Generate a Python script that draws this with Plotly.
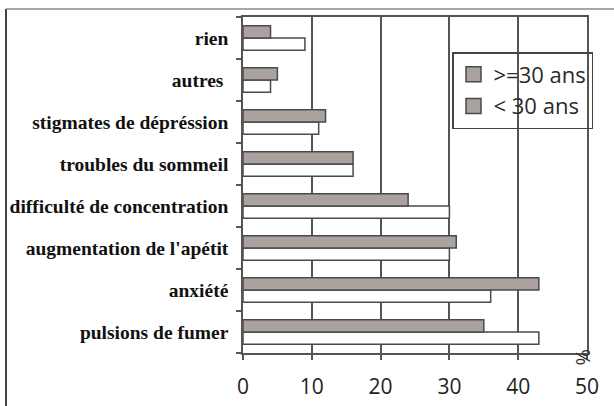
import plotly.graph_objects as go

categories = ["pulsions de fumer", "anxiété", "augmentation de l'apétit",
              "difficulté de concentration", "troubles du sommeil",
              "stigmates de dépréssion", "autres ", "rien"]
ge30 = [35, 43, 31, 24, 16, 12, 5, 4]
lt30 = [43, 36, 30, 30, 16, 11, 4, 9]
x_ticks = [0, 10, 20, 30, 40, 50]

GRAY = "#aba2a0"
EDGE = "#4a4a4a"

fig = go.Figure()
fig.add_trace(go.Bar(y=categories, x=lt30, orientation="h", name="< 30 ans",
                     marker=dict(color="white", line=dict(color=EDGE, width=1.5)),
                     showlegend=False))
fig.add_trace(go.Bar(y=categories, x=ge30, orientation="h", name=">=30 ans",
                     marker=dict(color=GRAY, line=dict(color=EDGE, width=1.5)),
                     showlegend=False))
# legend entries (both drawn grey, as in the original)
for nm, grp in [(">=30 ans", "a"), ("< 30 ans", "b")]:
    fig.add_trace(go.Scatter(x=[None], y=[None], mode="markers", name=nm,
                             legendgroup=grp,
                             marker=dict(symbol="square", size=15, color=GRAY,
                                         line=dict(color=EDGE, width=1.5))))

W, H = 614, 406
L, R, T, B = 243, 27, 17, 53
pw, ph = W - L - R, H - T - B

def px(x):
    return (x - L) / pw

def py(y):
    return (H - B - y) / ph

fig.update_layout(
    width=W, height=H,
    margin=dict(l=L, r=R, t=T, b=B, autoexpand=False),
    paper_bgcolor="white", plot_bgcolor="white",
    barmode="group", bargap=0.42, bargroupgap=0,
    xaxis=dict(range=[0, 50], tickvals=x_ticks, ticktext=[str(v) for v in x_ticks],
               showgrid=True, gridcolor="#555555", gridwidth=1.5,
               showline=True, linecolor="#555555", linewidth=1.5, mirror=True,
               ticks="outside", ticklen=5, tickcolor="#555555", tickwidth=1.5,
               tickfont=dict(family="Open Sans", size=21, color="#1e1e1e"),
               ticklabelstandoff=9, zeroline=False, fixedrange=True, automargin=False),
    yaxis=dict(type="category", categoryorder="array", categoryarray=categories,
               showline=True, linecolor="#555555", linewidth=1.5, mirror=True,
               ticks="outside", ticklen=5, tickcolor="#555555", tickwidth=1.5,
               tickson="boundaries", showgrid=False,
               tickfont=dict(family="Liberation Serif", size=19.5, color="#111111",
                             weight="bold"),
               ticklabelstandoff=9, fixedrange=True, automargin=False),
    legend=dict(x=px(452), y=py(52), xanchor="left", yanchor="top",
                bgcolor="rgba(0,0,0,0)", bordercolor="#444444", borderwidth=1.5,
                font=dict(family="Open Sans", size=22, color="#2a2a2a"),
                tracegroupgap=2, itemwidth=30, traceorder="normal"),
    shapes=[
        dict(type="line", xref="paper", yref="paper", x0=px(6), x1=px(W), y0=py(9), y1=py(9),
             line=dict(color="#8a8a8a", width=1.5)),
        dict(type="line", xref="paper", yref="paper", x0=px(6), x1=px(6), y0=py(9), y1=py(H),
             line=dict(color="#444444", width=2)),
    ],
    annotations=[dict(text="%", x=50, xref="x", xshift=-3, y=py(357), yref="paper",
                      xanchor="center", yanchor="middle",
                      showarrow=False, textangle=90,
                      font=dict(family="Open Sans", size=20, color="#333333"))],
)

fig.write_html("out.html", config={"displayModeBar": False},
               post_script="document.body.style.margin='0';document.body.style.padding='0';")
